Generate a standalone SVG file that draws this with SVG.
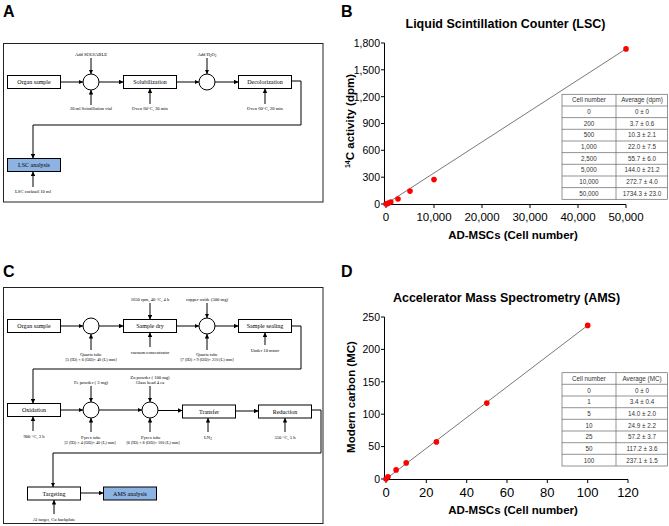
<svg xmlns="http://www.w3.org/2000/svg" width="669" height="526" viewBox="0 0 669 526">
<defs>
<marker id="ah" viewBox="0 0 10 10" refX="10" refY="5" markerWidth="4.5" markerHeight="4.5" markerUnits="userSpaceOnUse" orient="auto"><path d="M0,0 L10,5 L0,10 z" fill="#000"/></marker>
<style>
.frame{fill:#fff;stroke:#222;stroke-width:1}
.box{fill:#fff;stroke:#000;stroke-width:1}
.blue{fill:#8db3e2;stroke:#000;stroke-width:1}
.cir{fill:#fff;stroke:#000;stroke-width:1}
.bt{font-family:"Liberation Serif",serif;font-size:6px;text-anchor:middle;fill:#000}
.st{font-family:"Liberation Serif",serif;font-size:4.6px;text-anchor:middle;fill:#000}
.sb{font-family:"Liberation Serif",serif;font-size:4.2px;text-anchor:middle;fill:#000}
.con line,.con polyline{stroke:#000;stroke-width:1;fill:none;marker-end:url(#ah)}
.pl{font-family:"Liberation Sans",Arial,sans-serif;font-size:16px;font-weight:bold;fill:#000}
.ttl{font-family:"Liberation Sans",Arial,sans-serif;font-size:12.5px;font-weight:bold;text-anchor:middle;fill:#000}
.axt{font-family:"Liberation Sans",Arial,sans-serif;font-size:11.5px;font-weight:bold;text-anchor:middle;fill:#000}
.yl{font-family:"Liberation Sans",Arial,sans-serif;font-size:10.5px;text-anchor:end;fill:#000}
.xl{font-family:"Liberation Sans",Arial,sans-serif;font-size:11.5px;text-anchor:middle;fill:#000}
.xl2{font-family:"Liberation Sans",Arial,sans-serif;font-size:13px;text-anchor:middle;fill:#000}
.ax{stroke:#000;stroke-width:1;fill:none}
.fit{stroke:#555;stroke-width:0.8;fill:none}
.pt{fill:#f00}
.tb{fill:#fff;stroke:#666;stroke-width:0.7}
.tl{stroke:#666;stroke-width:0.7}
.tt{font-family:"Liberation Sans",Arial,sans-serif;font-size:6.3px;text-anchor:middle;fill:#333}
</style>
</defs>
<rect width="669" height="526" fill="#fff"/>

<!-- Panel A -->
<text class="pl" x="3" y="17">A</text>
<rect class="frame" x="3.5" y="43.5" width="319.5" height="158.5"/>
<g id="a-organ"><rect class="box" x="7.5" y="75.5" width="53" height="13"/><text class="bt" x="34" y="84">Organ sample</text></g>
<g id="a-mix1"><circle class="cir" cx="91" cy="82" r="8"/><text class="st" x="91" y="56">Add SOLVABLE</text><text class="st" x="91" y="110">20 ml Scintillation vial</text></g>
<g id="a-solub"><rect class="box" x="123.5" y="75.5" width="53" height="13"/><text class="bt" x="150" y="84">Solubilization</text><text class="st" x="150" y="110">Oven 60°C, 30 min</text></g>
<g id="a-mix2"><circle class="cir" cx="207" cy="82" r="8"/><text class="st" x="207" y="56">Add H<tspan font-size="3.5" dy="1">2</tspan><tspan dy="-1">O</tspan><tspan font-size="3.5" dy="1">2</tspan></text></g>
<g id="a-decol"><rect class="box" x="238.5" y="75.5" width="53" height="13"/><text class="bt" x="265" y="84">Decolorization</text><text class="st" x="265" y="110">Oven 60°C, 20 min</text></g>
<g id="a-lsc"><rect class="blue" x="7.5" y="158.5" width="53" height="13"/><text class="bt" x="34" y="167">LSC analysis</text><text class="st" x="33" y="193">LSC cocktail 10 ml</text></g>

<!-- Panel C -->
<text class="pl" x="3" y="277">C</text>
<rect class="frame" x="3.5" y="287.5" width="319.5" height="236"/>
<g id="c-organ"><rect class="box" x="7.5" y="319.5" width="53" height="13"/><text class="bt" x="34" y="328">Organ sample</text></g>
<g id="c-mix1"><circle class="cir" cx="91" cy="326" r="8"/><text class="st" x="91" y="356">Quartz tube</text><text class="sb" x="91" y="361">[3 (ID) × 6 (OD)× 40 (L) mm]</text></g>
<g id="c-dry"><rect class="box" x="123.5" y="319.5" width="53" height="13"/><text class="bt" x="150" y="328">Sample dry</text><text class="st" x="150" y="300.5">1650 rpm, 40 °C, 4 h</text><text class="st" x="150" y="353.5">vacuum concentrator</text></g>
<g id="c-mix2"><circle class="cir" cx="207" cy="326" r="8"/><text class="st" x="207" y="300.5">copper oxide (500 mg)</text><text class="st" x="207" y="356">Quartz tube</text><text class="sb" x="207" y="361">[7 (ID) × 9 (OD)× 210 (L) mm]</text></g>
<g id="c-seal"><rect class="box" x="238.5" y="319.5" width="53" height="13"/><text class="bt" x="265" y="328">Sample sealing</text><text class="st" x="265" y="351.5">Under 10 mtorr</text></g>
<g id="c-oxid"><rect class="box" x="7.5" y="403.5" width="53" height="13"/><text class="bt" x="34" y="412">Oxidation</text><text class="st" x="34" y="438">900 °C, 3 h</text></g>
<g id="c-mix3"><circle class="cir" cx="91" cy="410" r="8"/><text class="st" x="91" y="383.5">Fe powder ( 3 mg)</text><text class="st" x="91" y="438.5">Pyrex tube</text><text class="sb" x="90" y="443.5">[2 (ID) × 4 (OD)× 40 (L) mm]</text></g>
<g id="c-mix4"><circle class="cir" cx="150" cy="410" r="8"/><text class="st" x="150" y="378.5">Zn powder ( 100 mg)</text><text class="st" x="150" y="383.5">Glass bead 4 ea</text><text class="st" x="151" y="438.5">Pyrex tube</text><text class="sb" x="153" y="443.5">[6 (ID) × 8 (OD)× 100 (L) mm]</text></g>
<g id="c-transfer"><rect class="box" x="182.5" y="405" width="53" height="13"/><text class="bt" x="209" y="413.5">Transfer</text><text class="st" x="208" y="438.5">LN<tspan font-size="3.5" dy="1">2</tspan></text></g>
<g id="c-reduct"><rect class="box" x="258.5" y="405" width="53" height="13"/><text class="bt" x="285" y="413.5">Reduction</text><text class="st" x="285" y="438.5">550 °C, 5 h</text></g>
<g id="c-target"><rect class="box" x="27.5" y="487" width="53" height="13"/><text class="bt" x="54" y="495.5">Targeting</text><text class="st" x="54" y="521">Al target, Cu backplate</text></g>
<g id="c-ams"><rect class="blue" x="103.5" y="487" width="53" height="13"/><text class="bt" x="130" y="495.5">AMS analysis</text></g>

<g id="connectors" class="con">
<line x1="60.5" y1="82" x2="83" y2="82"/>
<line x1="91" y1="58" x2="91" y2="74"/>
<line x1="91" y1="105" x2="91" y2="90"/>
<line x1="99" y1="82" x2="123.5" y2="82"/>
<line x1="150" y1="104" x2="150" y2="88.5"/>
<line x1="176.5" y1="82" x2="199" y2="82"/>
<line x1="207" y1="58" x2="207" y2="74"/>
<line x1="215" y1="82" x2="238.5" y2="82"/>
<line x1="265" y1="104" x2="265" y2="88.5"/>
<polyline points="291.5,81 301,81 301,125 33,125 33,158.5"/>
<line x1="33" y1="187" x2="33" y2="171.5"/>

<line x1="60.5" y1="326" x2="83" y2="326"/>
<line x1="91" y1="350" x2="91" y2="334"/>
<line x1="99" y1="326" x2="123.5" y2="326"/>
<line x1="150" y1="303" x2="150" y2="319.5"/>
<line x1="150" y1="347" x2="150" y2="332.5"/>
<line x1="176.5" y1="326" x2="199" y2="326"/>
<line x1="207" y1="303" x2="207" y2="318"/>
<line x1="207" y1="350" x2="207" y2="334"/>
<line x1="215" y1="326" x2="238.5" y2="326"/>
<line x1="265" y1="345" x2="265" y2="332.5"/>
<polyline points="291.5,326 301,326 301,369 33,369 33,403.5"/>
<line x1="33" y1="431" x2="33" y2="416.5"/>
<line x1="60.5" y1="410" x2="83" y2="410"/>
<line x1="91" y1="386" x2="91" y2="402"/>
<line x1="91" y1="432" x2="91" y2="418"/>
<line x1="99" y1="410" x2="142" y2="410"/>
<line x1="150" y1="386" x2="150" y2="402"/>
<line x1="150" y1="432" x2="150" y2="418"/>
<line x1="158" y1="410.5" x2="182.5" y2="410.5"/>
<line x1="208" y1="432" x2="208" y2="418"/>
<line x1="235.5" y1="411" x2="258.5" y2="411"/>
<line x1="285" y1="432" x2="285" y2="418"/>
<polyline points="311.5,410 321,410 321,453 53,453 53,487"/>
<line x1="54" y1="514" x2="54" y2="500"/>
<line x1="80.5" y1="493" x2="103.5" y2="493"/>
</g>

<!-- Panel B -->
<g id="chart-b">
<text class="pl" x="341" y="17">B</text>
<text class="ttl" x="505.5" y="28">Liquid Scintillation Counter (LSC)</text>
<path class="ax" d="M384.5,43 V204.5 H626 M381,43H384.5 M381,69.8H384.5 M381,96.7H384.5 M381,123.5H384.5 M381,150.3H384.5 M381,177.2H384.5 M381,204H384.5 M386,204.5V208 M434,204.5V208 M482,204.5V208 M530,204.5V208 M578,204.5V208 M626,204.5V208"/>
<text class="yl" x="380" y="46.8">1,800</text>
<text class="yl" x="380" y="73.6">1,500</text>
<text class="yl" x="380" y="100.5">1,200</text>
<text class="yl" x="380" y="127.3">900</text>
<text class="yl" x="380" y="154.1">600</text>
<text class="yl" x="380" y="181">300</text>
<text class="yl" x="380" y="207.8">0</text>
<text class="xl" x="386" y="221">0</text>
<text class="xl" x="434" y="221">10,000</text>
<text class="xl" x="482" y="221">20,000</text>
<text class="xl" x="530" y="221">30,000</text>
<text class="xl" x="578" y="221">40,000</text>
<text class="xl" x="626" y="221">50,000</text>
<text class="axt" x="513" y="239">AD-MSCs (Cell number)</text>
<text class="axt" x="354" y="121" transform="rotate(-90 354 121)"><tspan font-size="7" dy="-4">14</tspan><tspan dy="4">C activity (dpm)</tspan></text>
<line class="fit" x1="386" y1="204" x2="626" y2="48.9"/>
<circle class="pt" cx="386" cy="204" r="2.8"/>
<circle class="pt" cx="387" cy="203.7" r="2.8"/>
<circle class="pt" cx="388.4" cy="203.1" r="2.8"/>
<circle class="pt" cx="390.8" cy="202" r="2.8"/>
<circle class="pt" cx="398" cy="199" r="2.8"/>
<circle class="pt" cx="410" cy="191.1" r="2.8"/>
<circle class="pt" cx="434" cy="179.6" r="2.8"/>
<circle class="pt" cx="626" cy="48.9" r="2.8"/>
<rect class="tb" x="562" y="94.3" width="105.5" height="105"/>
<path class="tl" d="M616,94.3V199.3 M562,106H667.5 M562,117.6H667.5 M562,129.3H667.5 M562,141H667.5 M562,152.6H667.5 M562,164.3H667.5 M562,176H667.5 M562,187.6H667.5"/>
<text class="tt" x="589" y="102.4">Cell number</text><text class="tt" x="642" y="102.4">Average  (dpm)</text>
<text class="tt" x="589" y="114">0</text><text class="tt" x="642" y="114">0 ± 0</text>
<text class="tt" x="589" y="125.7">200</text><text class="tt" x="642" y="125.7">3.7 ± 0.6</text>
<text class="tt" x="589" y="137.4">500</text><text class="tt" x="642" y="137.4">10.3 ± 2.1</text>
<text class="tt" x="589" y="149">1,000</text><text class="tt" x="642" y="149">22.0 ± 7.5</text>
<text class="tt" x="589" y="160.7">2,500</text><text class="tt" x="642" y="160.7">55.7 ± 6.0</text>
<text class="tt" x="589" y="172.4">5,000</text><text class="tt" x="642" y="172.4">144.0 ± 21.2</text>
<text class="tt" x="589" y="184">10,000</text><text class="tt" x="642" y="184">272.7 ± 4.0</text>
<text class="tt" x="589" y="195.7">50,000</text><text class="tt" x="642" y="195.7">1734.3 ± 23.0</text>
</g>

<!-- Panel D -->
<g id="chart-d">
<text class="pl" x="341" y="277">D</text>
<text class="ttl" x="506.5" y="302">Accelerator Mass Spectrometry (AMS)</text>
<path class="ax" d="M384.5,317 V479.5 H628 M381,317H384.5 M381,349.4H384.5 M381,381.8H384.5 M381,414.2H384.5 M381,446.6H384.5 M381,479H384.5 M386,479.5V483 M426.3,479.5V483 M466.7,479.5V483 M507,479.5V483 M547.3,479.5V483 M587.7,479.5V483 M628,479.5V483"/>
<text class="yl" x="380" y="320.8">250</text>
<text class="yl" x="380" y="353.2">200</text>
<text class="yl" x="380" y="385.6">150</text>
<text class="yl" x="380" y="418">100</text>
<text class="yl" x="380" y="450.4">50</text>
<text class="yl" x="380" y="482.8">0</text>
<text class="xl2" x="386" y="497">0</text>
<text class="xl2" x="426.3" y="497">20</text>
<text class="xl2" x="466.7" y="497">40</text>
<text class="xl2" x="507" y="497">60</text>
<text class="xl2" x="547.3" y="497">80</text>
<text class="xl2" x="587.7" y="497">100</text>
<text class="xl2" x="628" y="497">120</text>
<text class="axt" x="513" y="514">AD-MSCs (Cell number)</text>
<text class="axt" x="355" y="397" transform="rotate(-90 355 397)">Modern carbon (MC)</text>
<line class="fit" x1="386" y1="479" x2="587.7" y2="325.4"/>
<circle class="pt" cx="386" cy="479" r="2.8"/>
<circle class="pt" cx="388" cy="476.8" r="2.8"/>
<circle class="pt" cx="396.1" cy="469.9" r="2.8"/>
<circle class="pt" cx="406.2" cy="462.9" r="2.8"/>
<circle class="pt" cx="436.4" cy="441.9" r="2.8"/>
<circle class="pt" cx="486.8" cy="403.1" r="2.8"/>
<circle class="pt" cx="587.7" cy="325.4" r="2.8"/>
<rect class="tb" x="562" y="372.7" width="105.5" height="93.3"/>
<path class="tl" d="M616,372.7V466 M562,384.3H667.5 M562,396H667.5 M562,407.7H667.5 M562,419.3H667.5 M562,431H667.5 M562,442.7H667.5 M562,454.3H667.5"/>
<text class="tt" x="589" y="380.8">Cell number</text><text class="tt" x="642" y="380.8">Average  (MC)</text>
<text class="tt" x="589" y="392.5">0</text><text class="tt" x="642" y="392.5">0 ± 0</text>
<text class="tt" x="589" y="404.1">1</text><text class="tt" x="642" y="404.1">3.4 ± 0.4</text>
<text class="tt" x="589" y="415.8">5</text><text class="tt" x="642" y="415.8">14.0 ± 2.0</text>
<text class="tt" x="589" y="427.5">10</text><text class="tt" x="642" y="427.5">24.9 ± 2.2</text>
<text class="tt" x="589" y="439.1">25</text><text class="tt" x="642" y="439.1">57.2 ± 3.7</text>
<text class="tt" x="589" y="450.8">50</text><text class="tt" x="642" y="450.8">117.2 ± 3.6</text>
<text class="tt" x="589" y="462.5">100</text><text class="tt" x="642" y="462.5">237.1 ± 1.5</text>
</g>
</svg>
